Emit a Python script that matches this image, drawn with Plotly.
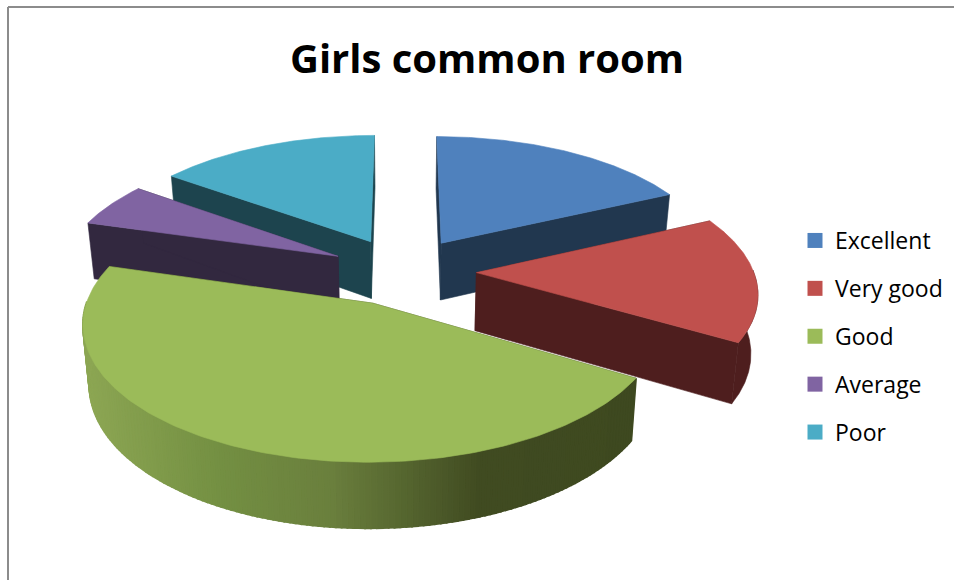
import numpy as np
import plotly.graph_objects as go

title_text = "Girls common room"
categories = ["Excellent", "Very good", "Good", "Average", "Poor"]
values = [18, 15.5, 46, 5.5, 15]
top_colors = ["#4F81BD", "#C0504D", "#9BBB59", "#8064A2", "#4BACC6"]
side_colors = ["#21374F", "#4E1E1E", "#3F4B20", "#32283F", "#1D444E"]
draw_order = [0, 4, 3, 1, 2]

# Projection settings for the tilted, exploded pie (pixel space axes)
CX, CY, A, B, K = 403, 271, 277, 128, 0.135
EXPLODE, DEPTH, TAPER = 0.265, 58, 0.98
shade_x = [85, 220, 330, 480, 650]
shade_rgb = np.array([[140, 166, 83], [115, 143, 66], [106, 127, 61], [64, 75, 33], [62, 73, 32]])


def project(x, z):
    den = 1 + K * z
    return CX + A * x / den, CY - B * z / den, den


def top_and_base(x, z):
    sx, sy, den = project(x, z)
    bx = CX + (sx - CX) * TAPER
    by = sy + DEPTH * den ** -0.7
    return sx, sy, bx, by


totals = np.cumsum([0] + values) / sum(values) * 2 * np.pi
fig = go.Figure()


def poly(xs, ys, color, width=0.6):
    fig.add_trace(go.Scatter(
        x=list(xs), y=list(ys), mode="lines", fill="toself", fillcolor=color,
        line=dict(color=color, width=width), showlegend=False, hoverinfo="skip"))


# Legend entries
for name, color in zip(categories, top_colors):
    fig.add_trace(go.Scatter(
        x=[None], y=[None], mode="markers", name=name, legendgroup=name,
        marker=dict(symbol="square", size=15, color=color), hoverinfo="skip"))

for i in draw_order:
    a0, a1 = totals[i], totals[i + 1]
    mid = (a0 + a1) / 2
    ox, oz = EXPLODE * np.sin(mid), EXPLODE * np.cos(mid)
    th = np.linspace(a0, a1, 161)
    px, pz = ox + np.sin(th), oz + np.cos(th)
    ax_t, ay_t, ax_b, ay_b = top_and_base(np.array(ox), np.array(oz))
    sx, sy, bx, by = top_and_base(px, pz)

    # Radial walls
    for j in (0, -1):
        poly([ax_t, sx[j], bx[j], ax_b, ax_t], [ay_t, sy[j], by[j], ay_b, ay_t], side_colors[i])

    # Outer wall, only the part facing the viewer
    front = np.where(np.cos(th) < 0.02)[0]
    if len(front) > 1:
        if categories[i] == "Good":
            # Shaded bands follow screen x, painted in angle order
            for p, q in zip(front[:-1], front[1:]):
                mx = (sx[p] + sx[q]) / 2
                rgb = [int(round(np.interp(mx, shade_x, shade_rgb[:, c]))) for c in range(3)]
                col = f"rgb({rgb[0]},{rgb[1]},{rgb[2]})"
                poly([sx[p], sx[q], bx[q], bx[p], sx[p]], [sy[p], sy[q], by[q], by[p], sy[p]], col, 2)
        else:
            poly(list(sx[front]) + list(bx[front][::-1]) + [sx[front[0]]],
                 list(sy[front]) + list(by[front][::-1]) + [sy[front[0]]], side_colors[i])

    # Top face
    poly([ax_t] + list(sx) + [ax_t], [ay_t] + list(sy) + [ay_t], top_colors[i])

fig.update_layout(
    width=954, height=580, autosize=False,
    margin=dict(l=0, r=0, t=0, b=0),
    paper_bgcolor="white", plot_bgcolor="white",
    font=dict(family="Open Sans, sans-serif", color="black"),
    title=dict(text=f"<b>{title_text}</b>", x=487 / 954, y=1 - 59 / 580, xanchor="center",
               yanchor="middle", xref="paper", yref="container",
               font=dict(size=40, family="Open Sans, sans-serif", color="black")),
    xaxis=dict(range=[0, 954], visible=False, fixedrange=True),
    yaxis=dict(range=[580, 0], visible=False, fixedrange=True),
    legend=dict(x=795 / 954, y=1 - 219 / 580, xanchor="left", yanchor="top",
                font=dict(size=23, family="Open Sans, sans-serif", color="black"),
                tracegroupgap=15, itemsizing="trace", bgcolor="rgba(0,0,0,0)"),
    shapes=[
        dict(type="line", xref="x", yref="y", x0=8, x1=954, y0=7, y1=7, line=dict(color="#8C8C8C", width=2)),
        dict(type="line", xref="x", yref="y", x0=8, x1=8, y0=7, y1=580, line=dict(color="#8C8C8C", width=2)),
    ],
)

fig.write_html("out.html", config=dict(displayModeBar=False),
               post_script="document.body.style.margin='0';document.documentElement.style.overflow='hidden';")
